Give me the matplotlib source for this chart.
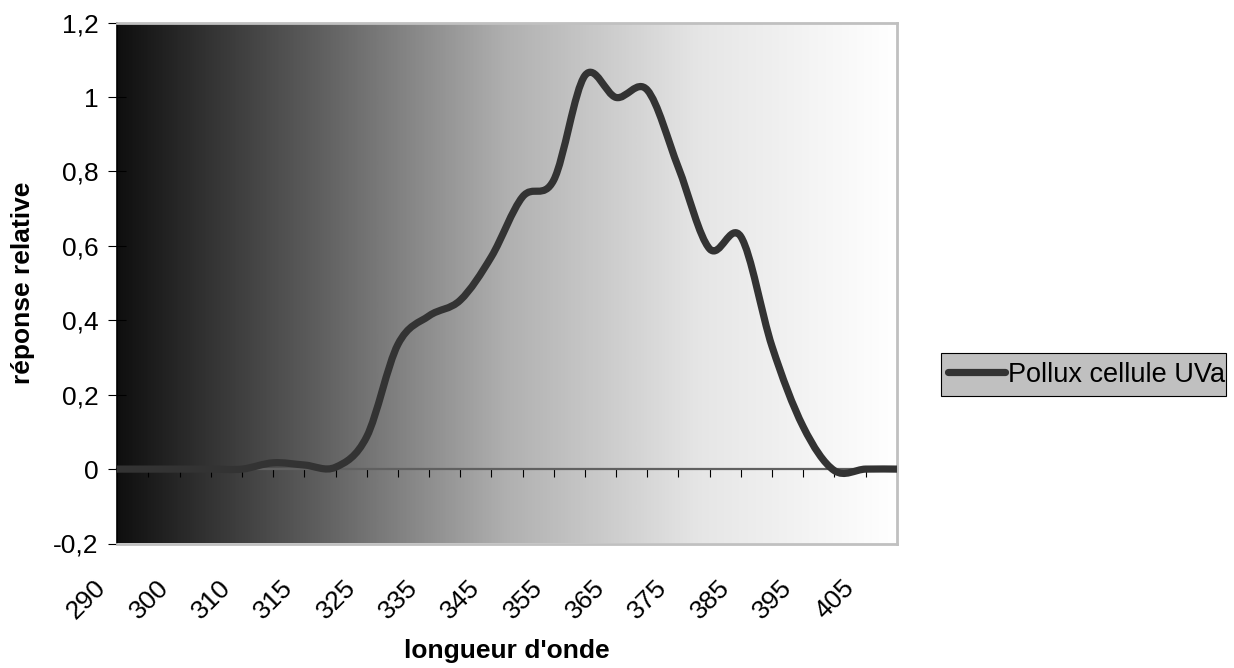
import numpy as np
import matplotlib
matplotlib.use("Agg")
import matplotlib.pyplot as plt
from matplotlib.path import Path
from matplotlib.patches import PathPatch, Rectangle
from matplotlib.lines import Line2D
from matplotlib.colors import LinearSegmentedColormap
from matplotlib.transforms import ScaledTranslation

plt.rcParams["font.family"] = ["Liberation Sans", "DejaVu Sans"]

# wavelength categories (only every other one is labelled on the axis)
wavelengths = ["290", "295", "300", "305", "310", "312", "315", "320", "325", "330",
               "335", "340", "345", "350", "355", "360", "365", "370", "375", "380",
               "385", "390", "395", "400", "405", "410"]

# relative response of the cell
response = [0.0, 0.0, 0.0, 0.0, 0.0, 0.017, 0.011, 0.005, 0.087, 0.335,
            0.412, 0.454, 0.571, 0.732, 0.777, 1.058, 0.999, 1.019, 0.81, 0.592,
            0.625, 0.33, 0.114, -0.004, 0.0, 0.0]

y_ticks = [-0.2, 0, 0.2, 0.4, 0.6, 0.8, 1.0, 1.2]
y_labels = ["-0,2", "0", "0,2", "0,4", "0,6", "0,8", "1", "1,2"]

series_name = "Pollux cellule UVa"
line_color = "#333333"


def smooth_path(xs, ys):
    # Excel-like smoothed line: cubic bezier through every point
    pts = np.column_stack([xs, ys])
    verts = [pts[0]]
    codes = [Path.MOVETO]
    n = len(pts)
    for i in range(n - 1):
        p0 = pts[max(i - 1, 0)]
        p1 = pts[i]
        p2 = pts[i + 1]
        p3 = pts[min(i + 2, n - 1)]
        c1 = p1 + (p2 - p0) / 6.0
        c2 = p2 - (p3 - p1) / 6.0
        verts += [c1, c2, p2]
        codes += [Path.CURVE4] * 3
    return Path(verts, codes)


W, H = 1234, 668
fig = plt.figure(figsize=(W / 100, H / 100), dpi=100)
ax = fig.add_axes([117.3 / W, 1 - 543.5 / H, (896.7 - 117.3) / W, (543.5 - 22.7) / H])

x = np.arange(len(wavelengths))

# gradient background: black on the left, white on the right
grad_cmap = LinearSegmentedColormap.from_list(
    "bg", [(0.0, "#0f0f0f"), (0.25, "#5c5c5c"), (0.5, "#b0b0b0"),
           (0.75, "#e6e6e6"), (1.0, "#ffffff")])
ax.imshow(np.linspace(0, 1, 512).reshape(1, -1), extent=[0, 1, 0, 1],
          transform=ax.transAxes, aspect="auto", cmap=grad_cmap, zorder=0,
          interpolation="bilinear")

patch = PathPatch(smooth_path(x, response), facecolor="none", edgecolor=line_color,
                  lw=5.2, capstyle="round", joinstyle="round", zorder=3)
ax.add_patch(patch)

ax.set_xlim(0, len(wavelengths) - 1)
ax.set_ylim(-0.2, 1.2)

# y axis
ax.set_yticks(y_ticks)
ax.set_yticklabels(y_labels)
ax.tick_params(axis="y", direction="inout", length=13, width=0.8, pad=7,
               labelsize=19, colors="black")

# x axis labels sit at the bottom, ticks are on the zero line
ax.set_xticks(x[::2])
ax.set_xticklabels(wavelengths[::2], rotation=45, ha="right", va="center",
                   rotation_mode="anchor")
ax.tick_params(axis="x", length=0, pad=29, labelsize=19)
offset = ScaledTranslation(-15 / 100, 0, fig.dpi_scale_trans)
for lab in ax.get_xticklabels():
    lab.set_transform(lab.get_transform() + offset)

zero_axis = ax.secondary_xaxis(0.2 / 1.4)
zero_axis.set_xticks(x)
zero_axis.tick_params(axis="x", direction="out", length=6, width=0.8,
                      labelbottom=False, colors="black")
zero_axis.spines["bottom"].set_color("#606060")
zero_axis.spines["bottom"].set_linewidth(1.6)
zero_axis.set_zorder(2)

for side in ["top", "right", "bottom"]:
    ax.spines[side].set_color("#c0c0c0")
    ax.spines[side].set_linewidth(2)
ax.spines["left"].set_color("black")
ax.spines["left"].set_linewidth(1.2)

fig.text(507 / W, 1 - 651 / H, "longueur d'onde", ha="center", va="center",
         fontsize=19, fontweight="bold")
fig.text(23 / W, 1 - 283 / H, "réponse relative", ha="center", va="center",
         rotation=90, fontsize=19, fontweight="bold")

# legend box drawn separately so its padding can match the original
fig.patches.append(Rectangle((941 / W, 1 - 396 / H), (1226 - 941) / W, 43 / H,
                             transform=fig.transFigure, facecolor="#c0c0c0",
                             edgecolor="black", lw=0.8, zorder=1))
handle = Line2D([], [], color=line_color, lw=5.2, solid_capstyle="round")
leg = fig.legend([handle], [series_name], loc="center left",
                 bbox_to_anchor=(944 / W, 1 - 374.5 / H), fontsize=19.5,
                 frameon=False, borderpad=0.15, handlelength=2.1,
                 handletextpad=0.1, borderaxespad=0)
leg.set_zorder(2)

fig.savefig("out.png", dpi=100)
